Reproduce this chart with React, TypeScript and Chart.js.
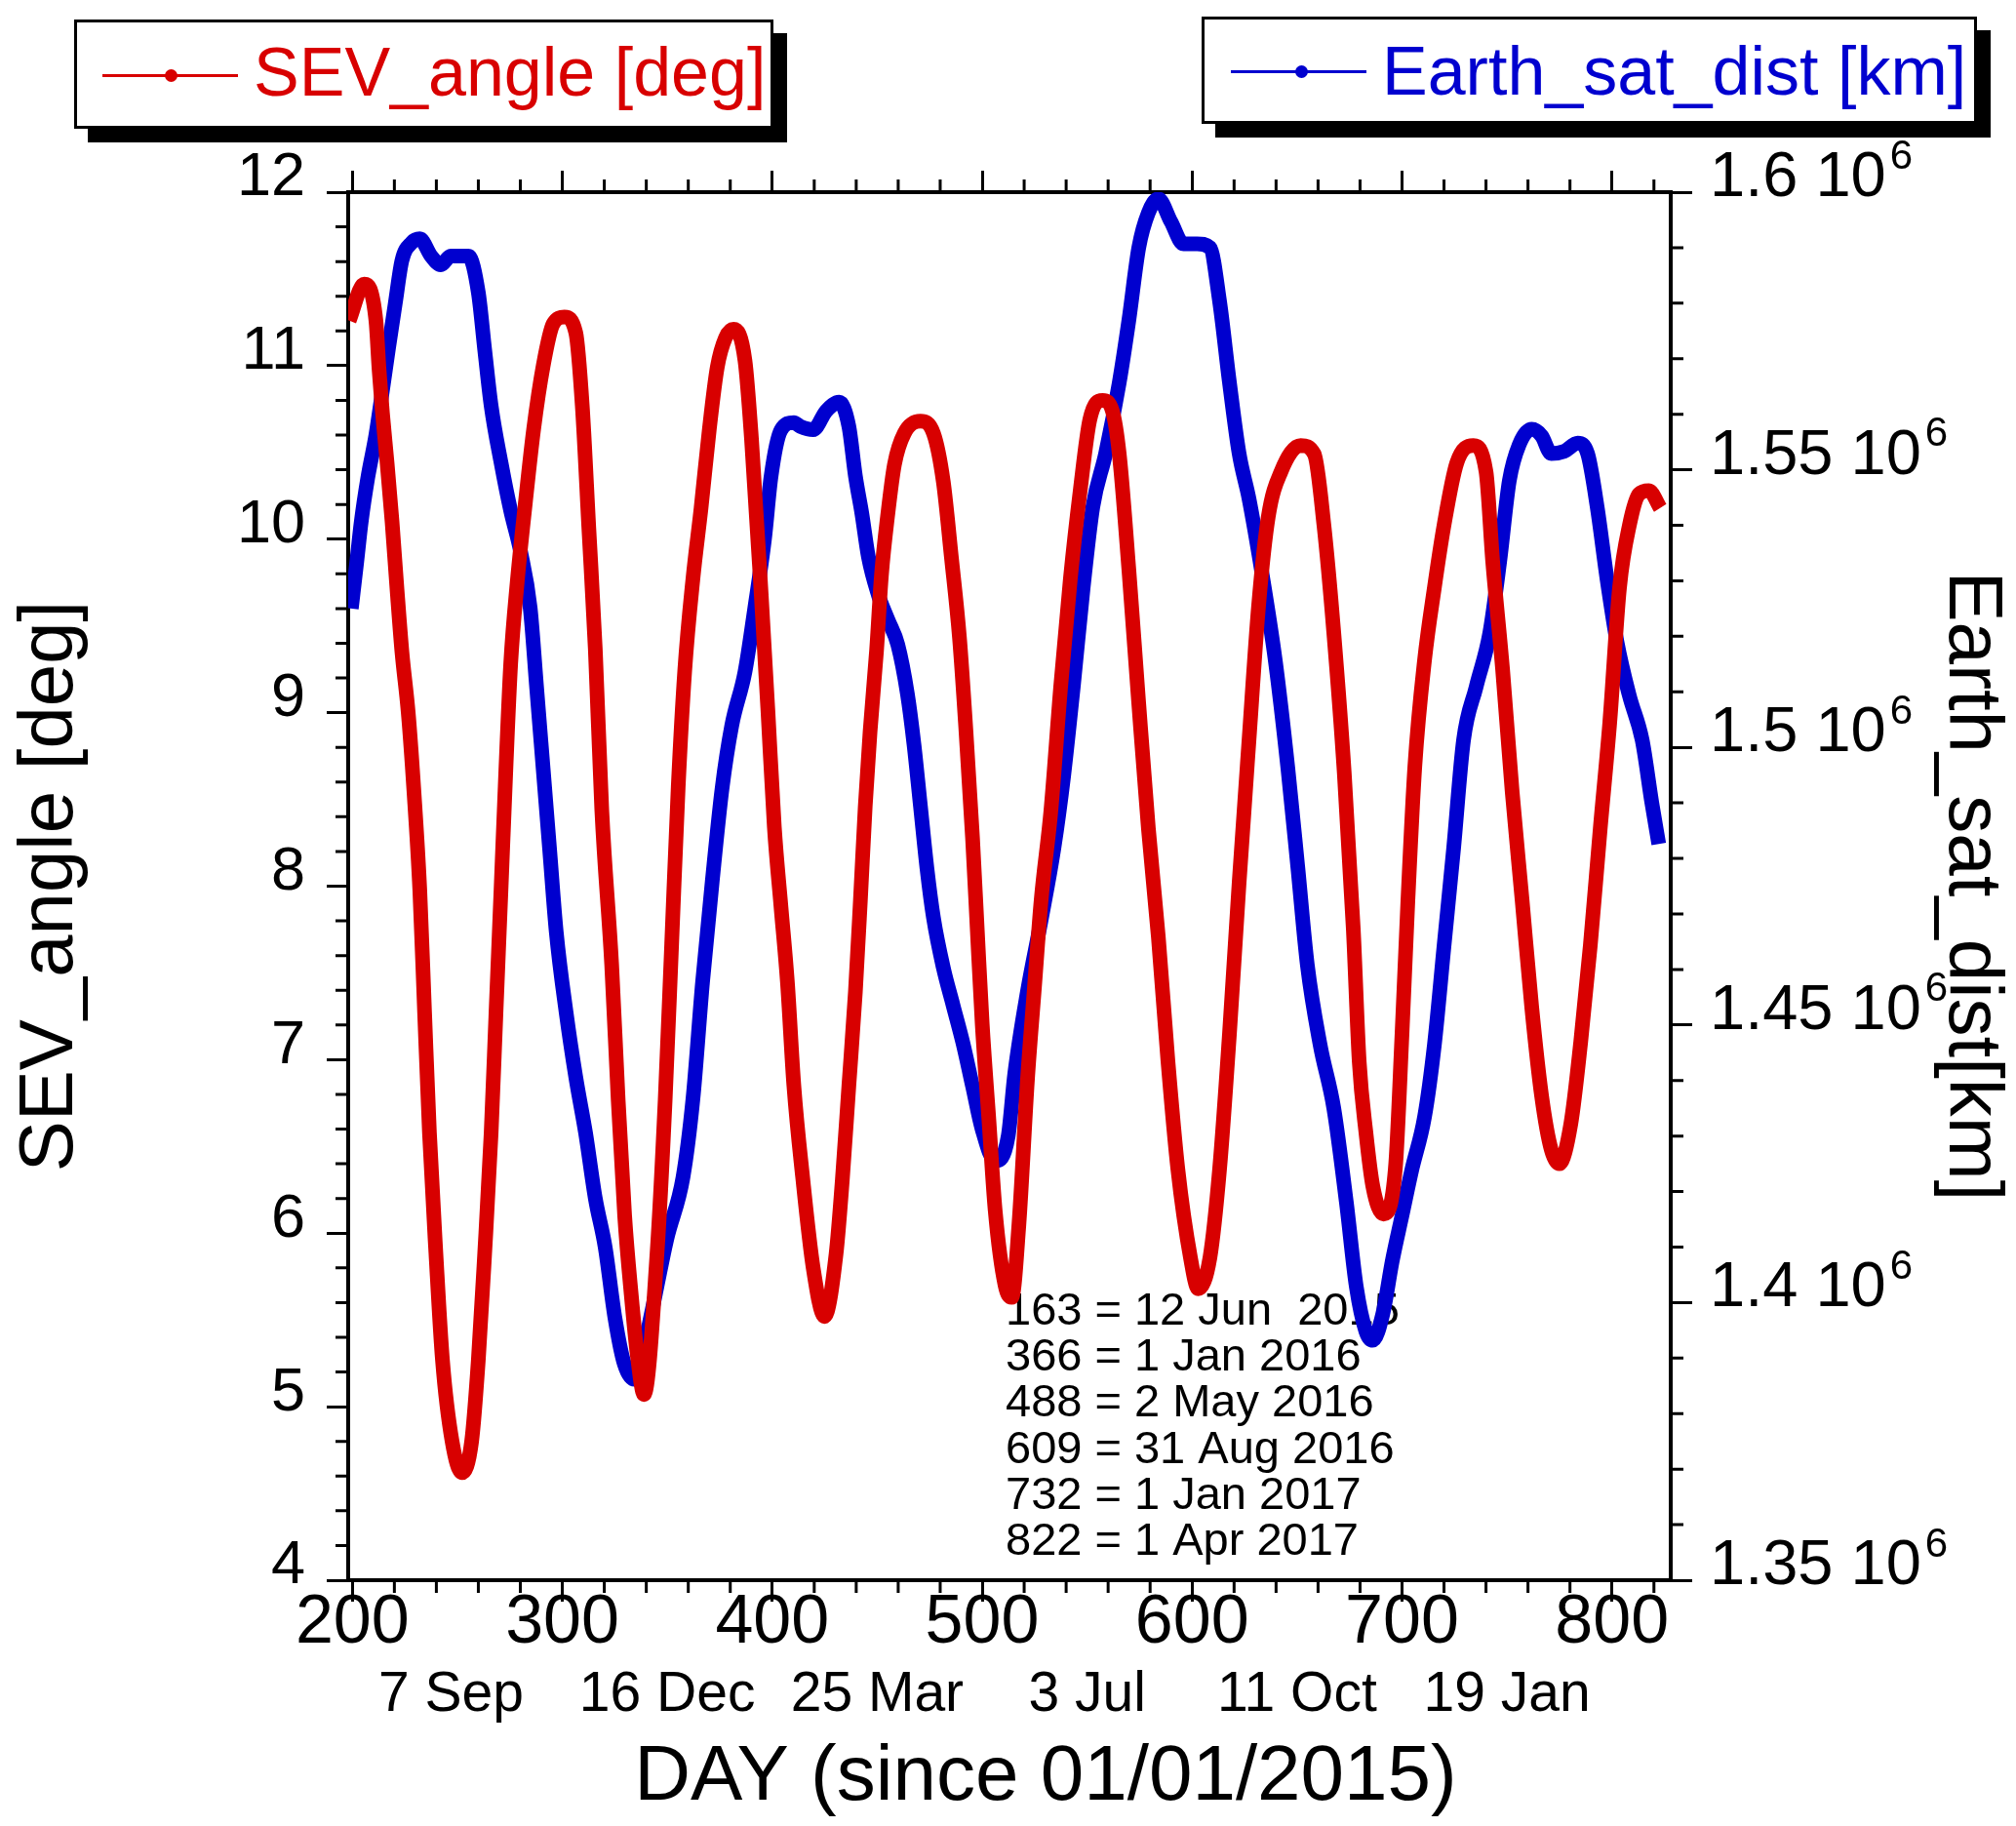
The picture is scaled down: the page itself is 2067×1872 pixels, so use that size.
import { useEffect, useRef } from 'react';
import { Chart, registerables, type Plugin } from 'chart.js';

Chart.register(...registerables);

const FONT = "'Liberation Sans', Arial, Helvetica, sans-serif";
const RED = '#d80000';
const BLUE = '#0000cf';

Chart.defaults.font.family = FONT;
Chart.defaults.color = '#000';

// SEV angle (red): day since 01/01/2015 -> degrees
const sevDays = [
  198.5, 205.6, 211.2, 212.7, 214.3, 216.6, 218.9, 221.2, 223.6, 226.6,
  229.3, 232.1, 234.4, 236.7, 239.8, 242.9, 247.5, 252.2, 256.8, 260.0,
  263.0, 266.1, 268.4, 270.8, 273.1, 275.4, 278.5, 282.4, 286.3, 290.9,
  295.6, 301.0, 306.4, 309.5, 312.6, 315.7, 318.8, 323.5, 326.6, 329.7,
  332.8, 335.8, 338.9, 345.1, 349.0, 352.1, 355.2, 358.3, 362.2, 366.1,
  370.0, 373.8, 377.7, 381.6, 387.0, 390.1, 394.7, 397.9, 401.0, 404.1,
  407.2, 410.3, 414.5, 419.5, 424.9, 430.4, 433.4, 436.5, 439.6, 442.0,
  444.3, 446.6, 449.7, 452.0, 455.1, 458.2, 462.9, 470.6, 476.8, 481.5,
  485.3, 489.2, 492.3, 495.4, 497.7, 500.0, 503.1, 506.2, 510.9, 514.1,
  517.5, 521.6, 524.8, 528.1, 532.7, 537.4, 542.0, 546.7, 551.3, 557.4,
  562.0, 565.3, 569.9, 574.6, 579.2, 583.9, 588.5, 593.2, 599.2, 602.9,
  608.5, 613.1, 617.8, 622.4, 627.1, 631.7, 636.3, 642.4, 651.7, 658.2,
  662.8, 667.5, 672.5, 676.8, 679.6, 682.8, 686.1, 691.2, 696.8, 700.0,
  702.8, 706.1, 710.7, 715.4, 720.0, 726.1, 734.0, 740.0, 743.2, 747.9,
  752.5, 757.2, 761.8, 766.5, 771.1, 774.9, 780.4, 785.1, 789.7, 794.4,
  799.0, 803.6, 808.3, 812.9, 817.6, 823.0,
];
const sevAngle = [
  11.26, 11.47, 11.26, 10.98, 10.73, 10.43, 10.10, 9.72, 9.35, 9.00,
  8.55, 7.98, 7.27, 6.58, 5.88, 5.27, 4.80, 4.62, 4.80, 5.27,
  5.88, 6.58, 7.27, 7.98, 8.67, 9.28, 9.75, 10.21, 10.63, 11.00,
  11.24, 11.28, 11.19, 10.77, 10.07, 9.37, 8.44, 7.55, 6.77, 6.10,
  5.65, 5.29, 5.07, 5.88, 6.77, 7.67, 8.57, 9.24, 9.77, 10.18,
  10.63, 10.99, 11.16, 11.21, 11.03, 10.58, 9.69, 9.02, 8.34, 7.89,
  7.45, 6.85, 6.32, 5.80, 5.52, 5.88, 6.31, 6.85, 7.39, 7.92,
  8.46, 8.89, 9.36, 9.79, 10.15, 10.43, 10.61, 10.68, 10.61, 10.33,
  9.90, 9.43, 8.89, 8.28, 7.74, 7.21, 6.67, 6.13, 5.70, 5.63,
  6.05, 6.89, 7.40, 7.92, 8.43, 9.15, 9.77, 10.28, 10.69, 10.80,
  10.74, 10.49, 9.82, 9.05, 8.33, 7.71, 6.99, 6.37, 5.86, 5.68,
  5.86, 6.37, 7.15, 8.02, 8.84, 9.62, 10.13, 10.39, 10.54, 10.49,
  10.08, 9.46, 8.65, 7.75, 6.99, 6.58, 6.27, 6.11, 6.37, 7.15,
  7.92, 8.69, 9.30, 9.72, 10.08, 10.44, 10.54, 10.39, 9.87, 9.25,
  8.54, 7.92, 7.30, 6.79, 6.48, 6.40, 6.63, 7.10, 7.66, 8.33,
  8.95, 9.72, 10.08, 10.26, 10.28, 10.18,
];

// Earth-satellite distance (blue): day -> km
const distDays = [
  199.5, 201.9, 204.2, 207.3, 211.2, 214.3, 217.3, 220.4, 223.6, 228.2,
  232.1, 237.5, 242.1, 246.8, 255.3, 260.0, 263.0, 266.1, 270.8, 275.4,
  280.1, 284.7, 287.8, 290.9, 294.0, 297.1, 301.8, 306.4, 311.1, 315.7,
  320.4, 325.0, 329.5, 334.3, 338.9, 342.1, 349.8, 357.5, 362.2, 366.8,
  371.4, 376.1, 380.7, 387.0, 391.6, 396.3, 399.4, 404.1, 410.3, 413.3,
  419.5, 425.7, 431.9, 436.5, 439.6, 442.7, 445.8, 450.5, 455.1, 459.8,
  464.4, 467.5, 470.6, 473.7, 476.8, 481.5, 486.1, 490.8, 495.4, 500.0,
  506.2, 512.4, 515.5, 521.6, 528.1, 534.2, 538.8, 543.4, 548.1, 552.7,
  558.8, 565.3, 569.9, 574.6, 579.2, 583.9, 589.9, 595.9, 602.4, 608.5,
  613.1, 617.8, 622.4, 627.1, 633.1, 639.6, 645.6, 650.3, 654.9, 661.0,
  667.5, 673.5, 678.2, 682.8, 686.1, 690.8, 695.4, 700.0, 704.6, 710.7,
  715.4, 720.0, 724.6, 729.3, 735.3, 741.8, 746.5, 751.1, 755.8, 761.8,
  766.5, 771.1, 777.2, 783.7, 788.4, 793.0, 797.7, 802.4, 808.3, 814.4,
  819.0, 822.3,
];
const distKm = [
  1525000, 1532800, 1540600, 1548500, 1556300, 1564200, 1572100, 1579900, 1587700, 1590900,
  1591600, 1588500, 1586900, 1588500, 1588500, 1581900, 1571700, 1561500, 1551300, 1542600,
  1535300, 1525100, 1510600, 1496000, 1481400, 1466800, 1452300, 1440600, 1430500, 1418800,
  1410000, 1397400, 1389000, 1386200, 1392000, 1397400, 1411500, 1422600, 1436600, 1457700,
  1475800, 1492600, 1503900, 1513600, 1524900, 1537500, 1548700, 1557100, 1558500, 1557800,
  1557200, 1560600, 1562200, 1557800, 1548900, 1542100, 1534300, 1527500, 1523000, 1518500,
  1509600, 1500600, 1489400, 1478200, 1469300, 1460300, 1453600, 1446800, 1439000, 1431200,
  1425500, 1430000, 1441200, 1456100, 1468900, 1481900, 1494800, 1510900, 1528700, 1543300,
  1552900, 1565700, 1577000, 1590000, 1596300, 1598800, 1594700, 1590700, 1590700, 1590000,
  1580300, 1565700, 1552900, 1544800, 1531800, 1515700, 1496300, 1478600, 1460800, 1446400,
  1435000, 1418000, 1402900, 1394800, 1393200, 1397900, 1407600, 1415700, 1423800, 1433400,
  1446400, 1464200, 1481900, 1501300, 1510900, 1520600, 1533400, 1548000, 1554500, 1557300,
  1556100, 1552900, 1553300, 1554800, 1552900, 1543200, 1530200, 1519000, 1509300, 1501300,
  1490000, 1482600,
];

const xMin = 198;
const xMax = 828;
const xTicks = [200, 300, 400, 500, 600, 700, 800];
const dateTickDays = [247, 350, 450, 550, 650, 750];
const dateTickLabels = ['7 Sep', '16 Dec', '25 Mar', '3 Jul', '11 Oct', '19 Jan'];
const angleTicks = [4, 5, 6, 7, 8, 9, 10, 11, 12];
const distTicks = [1350000, 1400000, 1450000, 1500000, 1550000, 1600000];
const distTickLabels = ['1.35', '1.4', '1.45', '1.5', '1.55', '1.6'];
const xTitle = 'DAY (since 01/01/2015)';
const dayNotes = [
  '163 = 12 Jun  2015',
  '366 = 1 Jan 2016',
  '488 = 2 May 2016',
  '609 = 31 Aug 2016',
  '732 = 1 Jan 2017',
  '822 = 1 Apr 2017',
];

const MAJOR = 22;
const MINOR = 13;

// minor ticks on all four sides, right-axis labels with exponent, day notes, x title
const frameExtras: Plugin<'line'> = {
  id: 'frameExtras',
  beforeDatasetsDraw(chart) {
    const { ctx, chartArea: a } = chart;
    ctx.save();
    ctx.fillStyle = '#000';
    ctx.font = `47px ${FONT}`;
    ctx.textAlign = 'left';
    ctx.textBaseline = 'middle';
    dayNotes.forEach((t, i) => ctx.fillText(t, a.left + 674, a.top + 1148 + i * 47.2));
    ctx.restore();
  },
  afterDraw(chart) {
    const { ctx, chartArea: a, scales } = chart;
    const x = scales.x;
    const y = scales.y;
    const y2 = scales.y2;
    ctx.save();
    ctx.strokeStyle = '#000';
    ctx.lineWidth = 3;
    ctx.beginPath();
    for (let d = 200; d <= xMax; d += 20) {
      if (d % 100 === 0) continue;
      const px = x.getPixelForValue(d);
      ctx.moveTo(px, a.bottom);
      ctx.lineTo(px, a.bottom + MINOR);
      ctx.moveTo(px, a.top);
      ctx.lineTo(px, a.top - MINOR);
    }
    for (let i = 1; i < 40; i++) {
      if (i % 5 === 0) continue;
      const py = y.getPixelForValue(4 + i * 0.2);
      ctx.moveTo(a.left, py);
      ctx.lineTo(a.left - MINOR, py);
    }
    for (let i = 1; i < 25; i++) {
      if (i % 5 === 0) continue;
      const py = y2.getPixelForValue(1350000 + i * 10000);
      ctx.moveTo(a.right, py);
      ctx.lineTo(a.right + MINOR, py);
    }
    ctx.stroke();

    ctx.fillStyle = '#000';
    ctx.textAlign = 'left';
    ctx.textBaseline = 'middle';
    distTicks.forEach((v, i) => {
      const py = y2.getPixelForValue(v) - 14;
      const px = a.right + 40;
      const base = distTickLabels[i] + ' 10';
      ctx.font = `65px ${FONT}`;
      ctx.fillText(base, px, py);
      const w = ctx.measureText(base).width;
      ctx.font = `42px ${FONT}`;
      ctx.fillText('6', px + w + 4, py - 22);
    });

    ctx.font = `80px ${FONT}`;
    ctx.textAlign = 'center';
    ctx.fillText(xTitle, (a.left + a.right) / 2 + 37, chart.height - 49);
    ctx.restore();
  },
};

const tickGrid = { drawOnChartArea: false, color: '#000', lineWidth: 3, tickLength: MAJOR };
const frameBorder = { color: '#000', width: 4 };

function LegendBox(props: {
  left: number; top: number; width: number; height: number;
  color: string; text: string; lineLeft: number; lineTop: number; dotLeft: number; textLeft: number; textTop: number;
}) {
  const { left, top, width, height, color, text, lineLeft, lineTop, dotLeft, textLeft, textTop } = props;
  return (
    <div
      style={{
        position: 'absolute', left, top, width, height, boxSizing: 'border-box',
        border: '3px solid #000', background: '#fff', boxShadow: '14px 14px 0 #000',
      }}
    >
      <div style={{ position: 'absolute', left: lineLeft, top: lineTop, width: 139, height: 3, background: color }} />
      <div
        style={{
          position: 'absolute', left: dotLeft, top: lineTop - 5, width: 13, height: 13,
          borderRadius: '50%', background: color,
        }}
      />
      <span
        style={{
          position: 'absolute', left: textLeft, top: textTop, font: `70px/1 ${FONT}`,
          color, whiteSpace: 'nowrap',
        }}
      >
        {text}
      </span>
    </div>
  );
}

export default function App() {
  const canvasRef = useRef<HTMLCanvasElement>(null);
  const chartRef = useRef<Chart | null>(null);

  useEffect(() => {
    if (!canvasRef.current) return;
    chartRef.current?.destroy();
    chartRef.current = new Chart(canvasRef.current, {
      type: 'line',
      data: {
        datasets: [
          {
            label: 'SEV_angle [deg]',
            data: sevDays.map((d, i) => ({ x: d, y: sevAngle[i] })),
            yAxisID: 'y',
            borderColor: RED,
            borderWidth: 15,
            pointRadius: 0,
            cubicInterpolationMode: 'monotone',
          },
          {
            label: 'Earth_sat_dist [km]',
            data: distDays.map((d, i) => ({ x: d, y: distKm[i] })),
            yAxisID: 'y2',
            borderColor: BLUE,
            borderWidth: 15,
            pointRadius: 0,
            cubicInterpolationMode: 'monotone',
          },
        ],
      },
      options: {
        responsive: false,
        animation: false,
        events: [],
        layout: { padding: 0 },
        plugins: { legend: { display: false }, tooltip: { enabled: false } },
        scales: {
          x: {
            type: 'linear',
            position: 'bottom',
            weight: 0,
            min: xMin,
            max: xMax,
            afterBuildTicks: (s) => { s.ticks = xTicks.map((value) => ({ value })); },
            ticks: { font: { size: 70 }, color: '#000', padding: -19, maxRotation: 0, autoSkip: false },
            grid: tickGrid,
            border: frameBorder,
            afterFit: (s) => { s.height = 80; },
          },
          xDate: {
            type: 'linear',
            position: 'bottom',
            weight: 1,
            min: xMin,
            max: xMax,
            afterBuildTicks: (s) => { s.ticks = dateTickDays.map((value) => ({ value })); },
            ticks: {
              font: { size: 57 },
              color: '#000',
              padding: 4,
              maxRotation: 0,
              autoSkip: false,
              callback: (v) => dateTickLabels[dateTickDays.indexOf(Number(v))] ?? '',
            },
            grid: { display: false, drawTicks: false },
            border: { display: false },
            afterFit: (s) => { s.height = 172; },
          },
          xTop: {
            type: 'linear',
            position: 'top',
            min: xMin,
            max: xMax,
            afterBuildTicks: (s) => { s.ticks = xTicks.map((value) => ({ value })); },
            ticks: { display: false },
            grid: tickGrid,
            border: frameBorder,
            afterFit: (s) => { s.height = 197; },
          },
          y: {
            type: 'linear',
            position: 'left',
            min: 4,
            max: 12,
            afterBuildTicks: (s) => { s.ticks = angleTicks.map((value) => ({ value })); },
            ticks: { font: { size: 63 }, color: '#000', padding: 22, labelOffset: -14 },
            grid: tickGrid,
            border: frameBorder,
            title: {
              display: true,
              text: 'SEV_angle [deg]',
              color: '#000',
              font: { size: 78 },
              padding: { top: 6, bottom: 0 },
            },
            afterFit: (s) => { s.width = 357; },
          },
          y2: {
            type: 'linear',
            position: 'right',
            min: 1350000,
            max: 1600000,
            afterBuildTicks: (s) => { s.ticks = distTicks.map((value) => ({ value })); },
            ticks: { display: false },
            grid: tickGrid,
            border: frameBorder,
            title: {
              display: true,
              text: 'Earth_sat_dist[km]',
              color: '#000',
              font: { size: 78 },
              padding: { top: 0, bottom: 0 },
            },
            afterFit: (s) => { s.width = 354; },
          },
        },
      },
      plugins: [frameExtras],
    });
    return () => { chartRef.current?.destroy(); };
  }, []);

  return (
    <div style={{ position: 'absolute', left: 0, top: 0, width: 2067, height: 1872, background: '#fff' }}>
      <canvas ref={canvasRef} width={2067} height={1872} style={{ width: 2067, height: 1872, display: 'block' }} />
      <LegendBox
        left={76} top={20} width={717} height={112} color={RED} text="SEV_angle [deg]"
        lineLeft={26} lineTop={53} dotLeft={90} textLeft={181} textTop={16}
      />
      <LegendBox
        left={1232} top={17} width={795} height={110} color={BLUE} text="Earth_sat_dist [km]"
        lineLeft={27} lineTop={52} dotLeft={93} textLeft={182} textTop={18}
      />
    </div>
  );
}
